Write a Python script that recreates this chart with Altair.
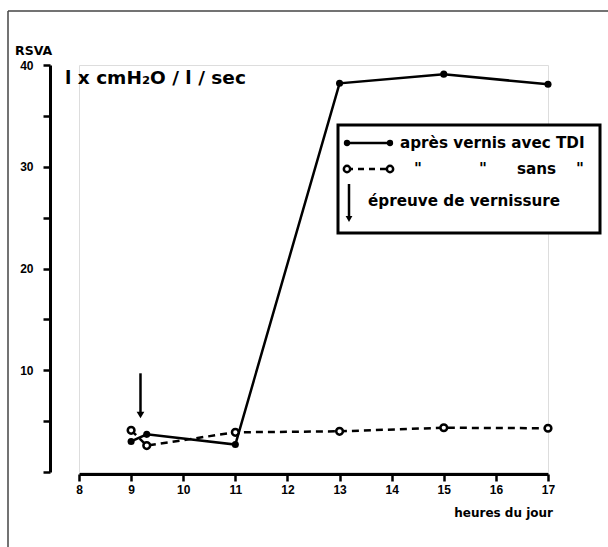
import altair as alt
import pandas as pd

# ---- data ----
hours_tdi = [9, 9.3, 11, 13, 15, 17]
rsva_tdi = [3.0, 3.7, 2.7, 38.2, 39.1, 38.1]
hours_sans = [9, 9.3, 11, 13, 15, 17]
rsva_sans = [4.1, 2.6, 3.9, 4.0, 4.35, 4.3]
arrow_hour = [9.18]
arrow_top = [9.7]
arrow_tip = [5.6]
x_ticks = [8, 9, 10, 11, 12, 13, 14, 15, 16, 17]
y_ticks = [0, 5, 10, 15, 20, 25, 30, 35, 40]

FONT = "Liberation Sans"
TFONT = "DejaVu Sans"
W, H = 469, 407
OX, OY = 79, 65  # plot origin in page pixels

tdi = pd.DataFrame({"h": hours_tdi, "v": rsva_tdi})
sans = pd.DataFrame({"h": hours_sans, "v": rsva_sans})
arr = pd.DataFrame({"h": arrow_hour, "v": arrow_top, "v2": arrow_tip})

xs = alt.Scale(domain=[8, 17], nice=False, zero=False)
ys = alt.Scale(domain=[0, 40], nice=False)

xaxis = alt.Axis(values=x_ticks, title=None, offset=2, domainWidth=3, tickWidth=2.5,
                 tickSize=7, labelPadding=3, labelFontSize=12, labelFont=FONT,
                 labelFontWeight="bold", labelColor="black", domainColor="black",
                 tickColor="black", grid=False, labelFlush=False)
yaxis = alt.Axis(values=y_ticks, title=None, offset=29, domainWidth=3, tickWidth=2.5,
                 tickSize=7, labelPadding=10, labelFontSize=12, labelFont=FONT,
                 labelFontWeight="bold", labelColor="black", domainColor="black",
                 tickColor="black", grid=False,
                 labelExpr="(datum.value % 10 == 0 && datum.value > 0) ? datum.label : ''")

line_tdi = alt.Chart(tdi).mark_line(color="black", strokeWidth=2.5).encode(
    x=alt.X("h:Q", scale=xs, axis=xaxis), y=alt.Y("v:Q", scale=ys, axis=yaxis))
pts_tdi = alt.Chart(tdi).mark_point(filled=True, color="black", size=50, opacity=1).encode(
    x=alt.X("h:Q", scale=xs), y=alt.Y("v:Q", scale=ys))
line_sans = alt.Chart(sans).mark_line(color="black", strokeWidth=2.5, strokeDash=[7, 5]).encode(
    x=alt.X("h:Q", scale=xs), y=alt.Y("v:Q", scale=ys))
pts_sans = alt.Chart(sans).mark_point(filled=False, color="black", fill="white", size=45,
                                      strokeWidth=2.5, opacity=1).encode(
    x=alt.X("h:Q", scale=xs), y=alt.Y("v:Q", scale=ys))
arrow_rule = alt.Chart(arr).mark_rule(color="black", strokeWidth=2.5).encode(
    x=alt.X("h:Q", scale=xs), y=alt.Y("v:Q", scale=ys), y2="v2:Q")
arrow_head = alt.Chart(arr).mark_point(shape="triangle-down", filled=True, color="black",
                                       size=60, opacity=1).encode(
    x=alt.X("h:Q", scale=xs), y=alt.Y("v2:Q", scale=ys))

one = alt.Data(values=[{"a": 1}])


def px(x):
    return x - OX


def py(y):
    return y - OY


def text(x, y, s, size=15, align="left", weight="bold", font=TFONT):
    return alt.Chart(one).mark_text(align=align, baseline="middle", font=font,
                                    fontSize=size, fontWeight=weight, color="black").encode(
        x=alt.value(px(x)), y=alt.value(py(y)), text=alt.value(s))


def hrule(x1, x2, y, width=2.5, color="black", dash=None):
    kw = dict(color=color, strokeWidth=width)
    if dash:
        kw["strokeDash"] = dash
    return alt.Chart(one).mark_rule(**kw).encode(
        x=alt.value(px(x1)), x2=alt.value(px(x2)), y=alt.value(py(y)))


def vrule(x, y1, y2, width=2.5, color="black"):
    return alt.Chart(one).mark_rule(color=color, strokeWidth=width).encode(
        x=alt.value(px(x)), y=alt.value(py(y1)), y2=alt.value(py(y2)))


def dot(x, y, filled=True, shape="circle", size=40):
    if filled:
        m = alt.Chart(one).mark_point(shape=shape, filled=True, color="black", size=size, opacity=1)
    else:
        m = alt.Chart(one).mark_point(shape=shape, filled=False, color="black", fill="white",
                                      size=size, strokeWidth=2.5, opacity=1)
    return m.encode(x=alt.value(px(x)), y=alt.value(py(y)))


# legend box
box = alt.Chart(one).mark_rect(fill="white", stroke="black", strokeWidth=3).encode(
    x=alt.value(px(338)), x2=alt.value(px(600)), y=alt.value(py(125)), y2=alt.value(py(233)))

layers = [
    # page frame
    vrule(8, 11, 547, width=1.5, color="#444"),
    hrule(8, 608, 11, width=1.5, color="#444"),
    line_sans, line_tdi, pts_sans, pts_tdi, arrow_rule, arrow_head,
    text(15, 51, "RSVA", size=12.5),
    text(65, 78, "l x cmH\u2082O / l / sec", size=18.5),
    text(553, 513, "heures du jour", size=12, align="right"),
    box,
    hrule(347, 390, 143), dot(347, 143), dot(390, 143),
    hrule(347, 390, 169, dash=[6, 5]), dot(347, 169, filled=False), dot(390, 169, filled=False),
    text(400, 143, "après vernis avec TDI", size=15.2),
    text(418, 169, "\"", size=15.2, align="center"),
    text(483, 169, "\"", size=15.2, align="center"),
    text(517, 169, "sans", size=15.2),
    text(580, 169, "\"", size=15.2, align="center"),
    vrule(349, 184, 216), dot(349, 219, shape="triangle-down", size=45),
    text(368, 201, "épreuve de vernissure", size=15.2),
]

chart = alt.layer(*layers).properties(
    width=W, height=H,
    padding={"left": OX, "top": OY, "right": 608 - OX - W, "bottom": 547 - OY - H},
    autosize=alt.AutoSizeParams(type="none"),
).configure_view(stroke=None).configure(background="white")

chart.save("out.html", embed_options={"renderer": "svg", "actions": False})
